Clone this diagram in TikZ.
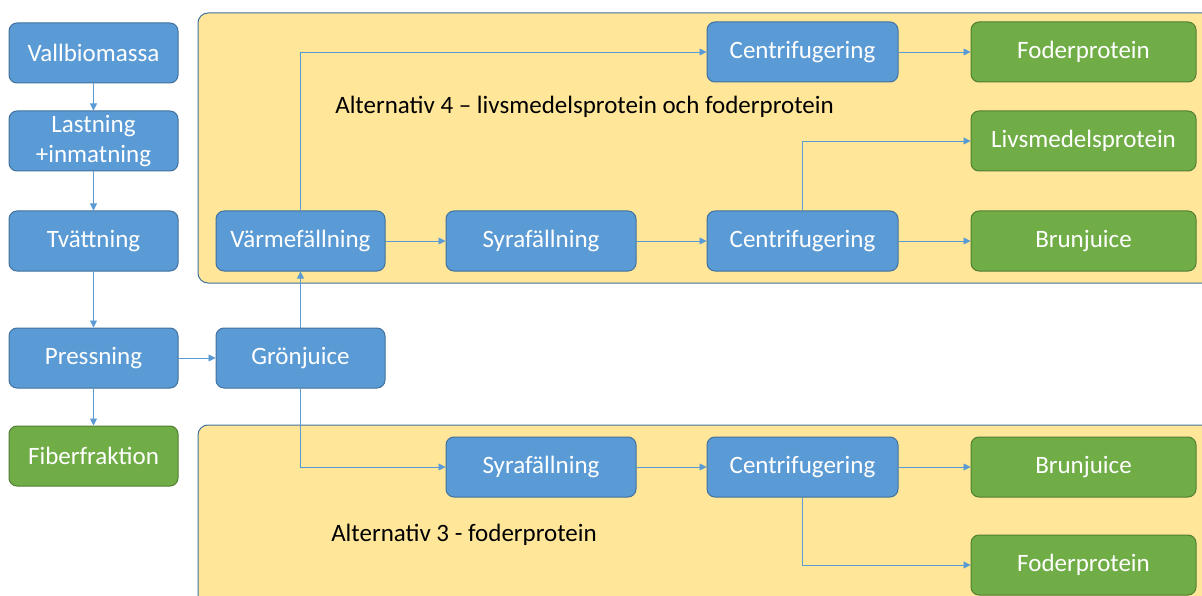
\documentclass[tikz,border=0pt]{standalone}
\usepackage{fontspec}
\setmainfont{Carlito}
\usetikzlibrary{arrows.meta}
\definecolor{boxblue}{HTML}{5B9BD5}
\definecolor{blueborder}{HTML}{41719C}
\definecolor{boxgreen}{HTML}{70AD47}
\definecolor{greenborder}{HTML}{507E32}
\definecolor{panel}{HTML}{FFE699}
\tikzset{
  proc/.style={rectangle, rounded corners=8pt, fill=boxblue, draw=blueborder, line width=1pt,
    text=white, minimum height=60pt, inner sep=0pt, font=\fontsize{25}{30}\selectfont, align=center},
  prod/.style={proc, fill=boxgreen, draw=greenborder, minimum width=225pt},
  conn/.style={draw=boxblue, line width=0.9pt, -{Triangle[length=7pt,width=7pt]}},
  panelbox/.style={rounded corners=10pt, fill=panel, draw=blueborder, line width=1pt},
  lbl/.style={font=\fontsize{25}{30}\selectfont, text=black, inner sep=0pt}
}
\begin{document}
\begin{tikzpicture}[x=1pt, y=-1pt]
\useasboundingbox (0,0) rectangle (1202,596);
\clip (0,0) rectangle (1202,596);
% panels
\draw[panelbox] (198,13) rectangle (1230,283);
\draw[panelbox] (198,425) rectangle (1230,640);
\node[lbl] (alt4) at (584.5,107) {Alternativ 4 – livsmedelsprotein och foderprotein};
\node[lbl] (alt3) at (464,535) {Alternativ 3 - foderprotein};
% left column
\node[proc, minimum width=169pt] (vall) at (93.5,53) {Vallbiomassa};
\node[proc, minimum width=169pt] (last) at (93.5,141) {Lastning\\+inmatning};
\node[proc, minimum width=169pt] (tvatt) at (93.5,241) {Tvättning};
\node[proc, minimum width=169pt] (press) at (93.5,358) {Pressning};
\node[prod, minimum width=169pt] (fiber) at (93.5,456) {Fiberfraktion};
\node[proc, minimum width=169pt] (gron) at (300.5,358) {Grönjuice};
% alternative 4
\node[proc, minimum width=169pt] (varme) at (300.5,241) {Värmefällning};
\node[proc, minimum width=190pt] (syraA) at (541,241) {Syrafällning};
\node[proc, minimum width=191pt] (centA) at (802.5,241) {Centrifugering};
\node[proc, minimum width=191pt] (centT) at (802.5,52) {Centrifugering};
\node[prod] (fodA) at (1083.5,52) {Foderprotein};
\node[prod] (livs) at (1083.5,141) {Livsmedelsprotein};
\node[prod] (brunA) at (1083.5,241) {Brunjuice};
% alternative 3
\node[proc, minimum width=190pt] (syraB) at (541,467) {Syrafällning};
\node[proc, minimum width=191pt] (centB) at (802.5,467) {Centrifugering};
\node[prod] (brunB) at (1083.5,467) {Brunjuice};
\node[prod] (fodB) at (1083.5,565) {Foderprotein};
% connectors
\draw[conn] (vall) -- (last);
\draw[conn] (last) -- (tvatt);
\draw[conn] (tvatt) -- (press);
\draw[conn] (press) -- (fiber);
\draw[conn] (press) -- (gron);
\draw[conn] (gron) -- (varme);
\draw[conn] (gron.south) |- (syraB.west);
\draw[conn] (varme.north) |- (centT.west);
\draw[conn] (varme) -- (syraA);
\draw[conn] (syraA) -- (centA);
\draw[conn] (centA) -- (brunA);
\draw[conn] (centA.north) |- (livs.west);
\draw[conn] (centT) -- (fodA);
\draw[conn] (syraB) -- (centB);
\draw[conn] (centB) -- (brunB);
\draw[conn] (centB.south) |- (fodB.west);
\end{tikzpicture}
\end{document}
